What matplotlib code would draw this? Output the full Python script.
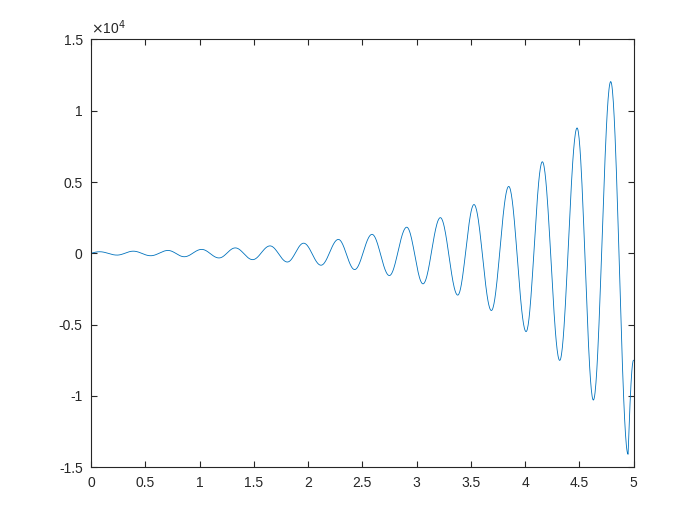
import numpy as np
import matplotlib
matplotlib.use("Agg")
import matplotlib.pyplot as plt

# Extrema of the oscillating curve (t, y)
ext_t = [0.0, 0.08, 0.24, 0.39, 0.55, 0.71, 0.86, 1.02, 1.18, 1.33, 1.49, 1.65, 1.81,
         1.96, 2.12, 2.28, 2.43, 2.59, 2.75, 2.91, 3.06, 3.22, 3.38, 3.53, 3.69,
         3.85, 4.01, 4.16, 4.32, 4.48, 4.63, 4.79, 4.95, 5.0]
ext_y = [0, 110, -125, 150, -170, 200, -240, 275, -325, 380, -445, 520, -610,
         710, -835, 975, -1140, 1330, -1560, 1830, -2140, 2500, -2930, 3420, -4010,
         4690, -5490, 6420, -7510, 8790, -10290, 12040, -14090, -7500]

xticks = [0, 0.5, 1, 1.5, 2, 2.5, 3, 3.5, 4, 4.5, 5]
xticklabels = ["0", "0.5", "1", "1.5", "2", "2.5", "3", "3.5", "4", "4.5", "5"]
yticks = [-15000, -10000, -5000, 0, 5000, 10000, 15000]
yticklabels = ["-1.5", "-1", "-0.5", "0", "0.5", "1", "1.5"]

plt.rcParams['font.family'] = ['Liberation Sans', 'DejaVu Sans']

# smooth rendering between read extrema (half-cosine easing)
xs, ys = [], []
n = len(ext_t)
for i in range(n - 1):
    t0, t1 = ext_t[i], ext_t[i + 1]
    y0, y1 = ext_y[i], ext_y[i + 1]
    s = np.linspace(0, 1, 40, endpoint=(i == n - 2))
    if i == n - 2:
        w = np.sin(np.pi / 2 * s)  # last partial segment, still steep at end
    elif i == 0:
        w = np.sin(np.pi / 2 * s)
    else:
        w = (1 - np.cos(np.pi * s)) / 2
    xs.append(t0 + (t1 - t0) * s)
    ys.append(y0 + (y1 - y0) * w)
xs = np.concatenate(xs)
ys = np.concatenate(ys)

fig = plt.figure(figsize=(7, 5.25), dpi=100)
ax = fig.add_axes([0.13, 0.11, 0.775, 0.815])
ax.plot(xs, ys, color='#0072BD', lw=0.6)
ax.set_xlim(0, 5)
ax.set_ylim(-15000, 15000)
ax.set_xticks(xticks)
ax.set_xticklabels(xticklabels)
ax.set_yticks(yticks)
ax.set_yticklabels(yticklabels)
tc = '#262626'
ax.tick_params(direction='in', length=4, width=0.8, colors=tc, labelsize=10,
               top=True, right=True, labelcolor=tc, pad=6)
for sp in ax.spines.values():
    sp.set_color(tc)
    sp.set_linewidth(0.8)
ax.text(0.0, 1.005, r'$\times$10$^{4}$', transform=ax.transAxes, fontsize=10,
        color=tc, ha='left', va='bottom')
fig.savefig('out.png', dpi=100)
